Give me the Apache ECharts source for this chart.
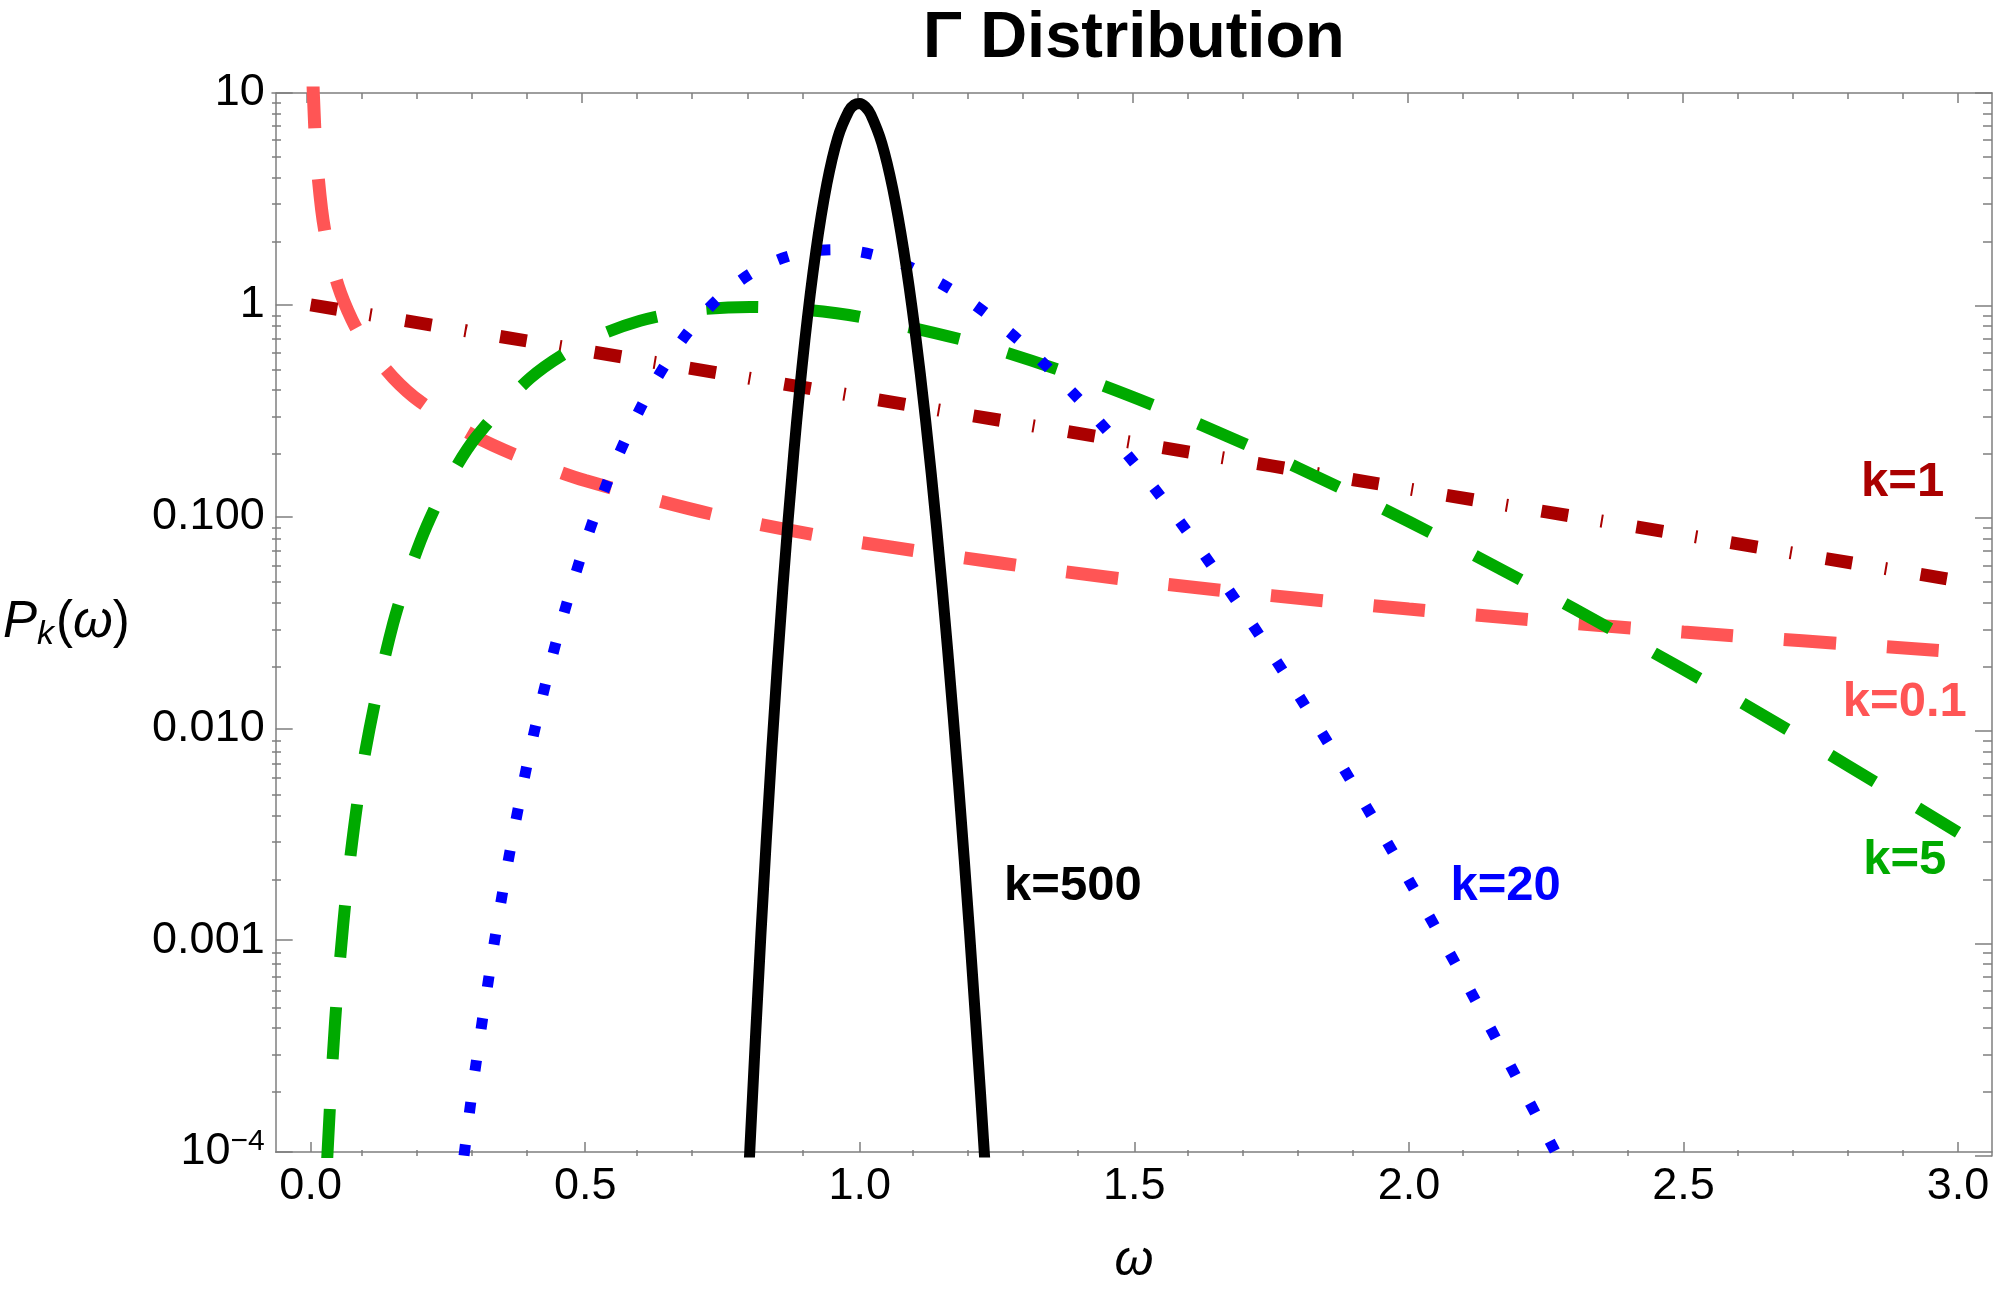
<!DOCTYPE html>
<html>
<head>
<meta charset="utf-8">
<script src="https://cdn.jsdelivr.net/npm/echarts@6/dist/echarts.min.js"></script>
<style>
html, body { margin: 0; padding: 0; background: #fff; }
#chart { width: 2000px; height: 1291px; }
</style>
</head>
<body>
<div id="chart"></div>
<script>
// omega / P_k(omega) pairs, one pair of arrays per curve
var w01 = [0.004, 0.005, 0.01, 0.02, 0.03, 0.05, 0.075, 0.1, 0.15, 0.2, 0.3, 0.4, 0.5, 0.75, 1.0, 1.5, 2.0, 2.5, 3.0];
var p01 = [12.0, 9.83, 5.26, 2.82, 1.954, 1.231, 0.853, 0.657, 0.454, 0.348, 0.239, 0.183, 0.148, 0.100, 0.0756, 0.0499, 0.0366, 0.0285, 0.0230];

var w1 = [0, 0.5, 1, 1.5, 2, 2.5, 3];
var p1 = [1, 0.607, 0.368, 0.223, 0.135, 0.0821, 0.0498];

var w5 = [0.03, 0.04, 0.05, 0.07, 0.1, 0.15, 0.2, 0.25, 0.3, 0.4, 0.5, 0.6, 0.7, 0.8, 0.9, 1.0, 1.2, 1.4, 1.6, 1.8, 2.0, 2.2, 2.4, 2.6, 2.8, 3.0];
var p5 = [9.08e-5, 2.73e-4, 6.34e-4, 2.20e-3, 7.90e-3, 0.0311, 0.0766, 0.146, 0.235, 0.451, 0.668, 0.840, 0.944, 0.977, 0.949, 0.877, 0.669, 0.456, 0.286, 0.169, 0.0946, 0.0509, 0.0265, 0.0135, 6.66e-3, 3.23e-3];

var w20 = [0.27, 0.3, 0.35, 0.4, 0.45, 0.5, 0.55, 0.6, 0.65, 0.7, 0.75, 0.8, 0.85, 0.9, 0.95, 1.0, 1.05, 1.1, 1.2, 1.3, 1.4, 1.5, 1.6, 1.7, 1.8, 1.9, 2.0, 2.1, 2.2, 2.3];
var p20 = [6.1e-5, 2.49e-4, 1.71e-3, 7.94e-3, 0.0274, 0.0747, 0.168, 0.323, 0.543, 0.817, 1.115, 1.398, 1.627, 1.773, 1.822, 1.777, 1.652, 1.471, 1.040, 0.644, 0.356, 0.179, 0.0825, 0.0353, 0.0142, 5.35e-3, 1.92e-3, 6.57e-4, 2.15e-4, 6.8e-5];

var w500 = [0.79, 0.80, 0.82, 0.84, 0.86, 0.88, 0.90, 0.92, 0.94, 0.96, 0.98, 0.99, 1.00, 1.01, 1.02, 1.04, 1.06, 1.08, 1.10, 1.12, 1.14, 1.16, 1.18, 1.20, 1.22, 1.24];
var p500 = [2.93e-5, 1.05e-4, 1.07e-3, 8.11e-3, 0.0463, 0.202, 0.679, 1.787, 3.715, 6.16, 8.22, 8.79, 8.92, 8.61, 7.92, 5.81, 3.54, 1.807, 0.777, 0.283, 0.0882, 0.0235, 5.41e-3, 1.08e-3, 1.87e-4, 2.83e-5];

// ticks
var xMajor = [0, 0.5, 1, 1.5, 2, 2.5, 3];
var xMinor = [0.1, 0.2, 0.3, 0.4, 0.6, 0.7, 0.8, 0.9, 1.1, 1.2, 1.3, 1.4, 1.6, 1.7, 1.8, 1.9, 2.1, 2.2, 2.3, 2.4, 2.6, 2.7, 2.8, 2.9];
var yMajor = [1e-4, 1e-3, 1e-2, 1e-1, 1, 10];
var yLabels = ['10^-4', '0.001', '0.010', '0.100', '1', '10'];

var yMinor = [];
for (var d = -4; d < 1; d++) {
	for (var m = 2; m < 10; m++) yMinor.push(m * Math.pow(10, d));
}

var font = 'Liberation Sans, Arial, sans-serif';
var frame = '#7f7f7f';
var xMin = -0.0636, xMax = 3.0618;

function zip(a, b) {
	return a.map(function (v, i) { return [v, b[i]]; });
}

function yFmt(v) {
	var s = yLabels[Math.round(Math.log10(v)) + 4];
	if (s.indexOf('^') > 0) {
		var p = s.split('^');
		return '{b|' + p[0] + '}{sup|' + p[1].replace('-', '\u2212') + '}';
	}
	return s;
}

function xAx(grid, pos, major, labels) {
	return {
		type: 'value', gridIndex: grid, position: pos, min: xMin, max: xMax,
		axisLine: { show: major, onZero: false, lineStyle: { color: frame, width: 1.5 } },
		axisTick: { show: true, inside: true, length: major ? 10 : 6, customValues: major ? xMajor : xMinor,
			lineStyle: { color: frame, width: 1.5 } },
		axisLabel: { show: labels, customValues: xMajor, formatter: function (v) { return v.toFixed(1); },
			fontSize: 45, color: '#000', margin: 12, fontFamily: font },
		splitLine: { show: false }
	};
}

function yAx(grid, pos, major, labels) {
	return {
		type: 'log', logBase: 10, gridIndex: grid, position: pos, min: 1e-4, max: 10,
		axisLine: { show: major, onZero: false, lineStyle: { color: frame, width: 1.5 } },
		axisTick: { show: true, inside: true, length: major ? 17 : 9, customValues: major ? yMajor : yMinor,
			lineStyle: { color: frame, width: 1.5 } },
		axisLabel: { show: labels, customValues: yMajor, formatter: yFmt, fontSize: 45, color: '#000',
			margin: 11, fontFamily: font,
			rich: { b: { fontSize: 45, fontFamily: font }, sup: { fontSize: 30, fontFamily: font, padding: [0, 0, 20, 0] } } },
		splitLine: { show: false }, minorTick: { show: false }
	};
}

function tag(text, color, x, y) {
	return {
		symbol: 'circle', symbolSize: 1, itemStyle: { color: 'rgba(0,0,0,0)' },
		label: { show: true, position: 'inside', formatter: text, color: color, fontSize: 49,
			fontWeight: 'bold', fontFamily: font },
		data: [{ coord: [x, y] }]
	};
}

function curve(name, w, p, color, width, dash, mark) {
	return {
		name: name, type: 'line', xAxisIndex: 0, yAxisIndex: 0,
		data: zip(w, p), symbol: 'none', smooth: 0.3,
		lineStyle: { color: color, width: width, type: dash },
		markPoint: mark
	};
}

var rect = { left: 272, right: 8, top: 93, bottom: 135 };
var grids = [0, 1, 2, 3].map(function () { return Object.assign({}, rect); });

var xAxes = [xAx(0, 'bottom', true, true), xAx(1, 'top', true, false), xAx(2, 'bottom', false, false), xAx(3, 'top', false, false)];
xAxes[0].name = '\u03c9';
xAxes[0].nameLocation = 'middle';
xAxes[0].nameGap = 84;
xAxes[0].nameTextStyle = { fontSize: 50, fontStyle: 'italic', color: '#000', fontFamily: font };

var yAxes = [yAx(0, 'left', true, true), yAx(1, 'right', true, false), yAx(2, 'left', false, false), yAx(3, 'right', false, false)];
yAxes[0].name = '{i|P}{s|k}{n|(}{i|\u03c9}{n|)}';
yAxes[0].nameLocation = 'middle';
yAxes[0].nameRotate = 0;
yAxes[0].nameGap = 146;
yAxes[0].nameTextStyle = {
	color: '#000', fontFamily: font,
	rich: {
		i: { fontSize: 51, fontStyle: 'italic', fontFamily: font },
		s: { fontSize: 34, fontStyle: 'italic', fontFamily: font, padding: [24, 2, 0, 0] },
		n: { fontSize: 51, fontFamily: font }
	}
};

var myChart = echarts.init(document.getElementById('chart'));
myChart.setOption({
	backgroundColor: '#fff',
	animation: false,
	textStyle: { fontFamily: font },
	title: {
		text: '\u0393 Distribution', left: 918, top: 2,
		textStyle: { fontSize: 65, fontWeight: 'bold', color: '#000', fontFamily: font }
	},
	grid: grids,
	xAxis: xAxes,
	yAxis: yAxes,
	series: [
		curve('k=0.1', w01, p01, '#ff5555', 13, [52, 51], tag('k=0.1', '#ff5555', 2.903, 0.0132)),
		curve('k=1', w1, p1, '#aa0000', 13, [27, 33, 2, 34], tag('k=1', '#aa0000', 2.899, 0.145)),
		curve('k=5', w5, p5, '#00aa00', 12, [52, 50], tag('k=5', '#00aa00', 2.903, 0.00239)),
		curve('k=20', w20, p20, '#0000ff', 11, [11, 31.5], tag('k=20', '#0000ff', 2.176, 0.0018)),
		curve('k=500', w500, p500, '#000000', 11, 'solid', tag('k=500', '#000000', 1.388, 0.0018))
	]
});
</script>
</body>
</html>
